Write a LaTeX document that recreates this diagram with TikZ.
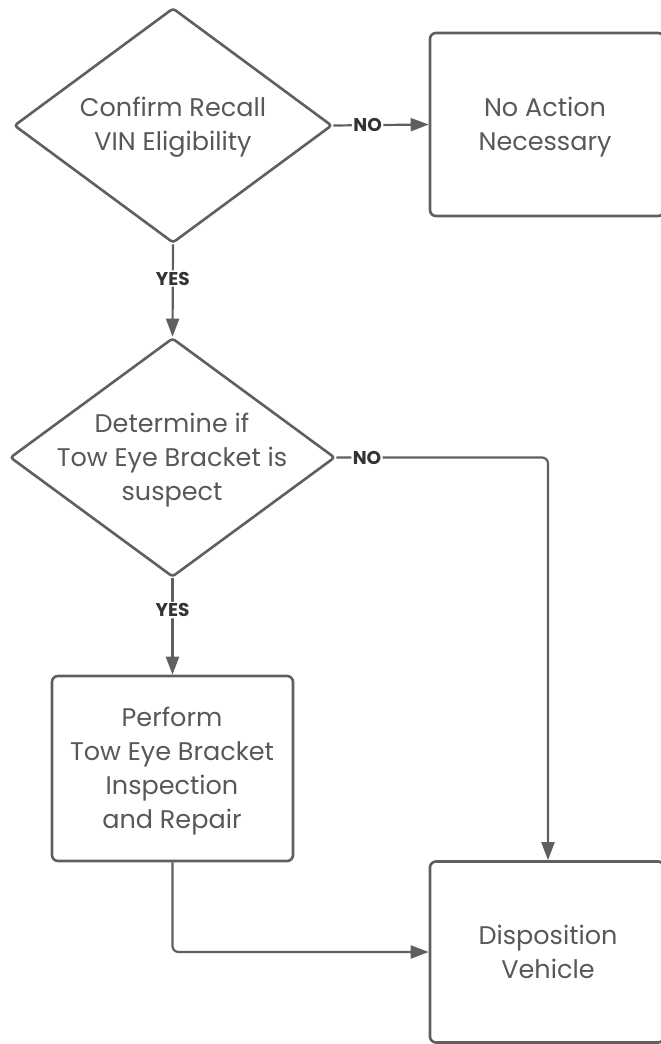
\documentclass[tikz,border=0pt]{standalone}
\usepackage{fontspec}
\setmainfont{Poppins}
\usetikzlibrary{shapes.geometric,arrows.meta}
\definecolor{linec}{HTML}{5F5F5F}
\definecolor{textc}{HTML}{585858}
\definecolor{lblc}{HTML}{333333}
\begin{document}
\begin{tikzpicture}[x=1pt,y=-1pt,
  every node/.style={text=textc},
  txt/.style={font=\fontsize{25.5}{34}\selectfont, align=center, inner sep=0pt},
  decision/.style={diamond, draw=linec, line width=2.6pt, rounded corners=3pt, inner sep=0pt},
  procbox/.style={rectangle, draw=linec, line width=2.6pt, rounded corners=6pt, inner sep=0pt},
  conn/.style={draw=linec, line width=2.2pt, rounded corners=6pt},
  arr/.style={conn, -{Triangle[length=18pt,width=13pt]}},
  lbl/.style={font=\fontsize{18.5}{20}\selectfont\bfseries, fill=white, inner sep=1.5pt, text=lblc}
]
\useasboundingbox (0,0) rectangle (661,1044);
\clip (0,0) rectangle (661,1044);
% decisions
\node[decision, minimum width=318pt, minimum height=235pt] (d1) at (173,125.5) {};
\node[txt] (t1) at (173,127) {Confirm Recall\\VIN Eligibility};
\node[decision, minimum width=325pt, minimum height=239pt] (d2) at (172.5,457.5) {};
\node[txt] (t2) at (172,460) {Determine if\\Tow Eye Bracket is\\suspect};
% boxes
\node[procbox, minimum width=234pt, minimum height=183pt] (b1) at (547,124.5) {};
\node[txt] (tb1) at (545,127) {No Action\\Necessary};
\node[procbox, minimum width=241pt, minimum height=185pt] (b3) at (172.5,768.5) {};
\node[txt] (tb3) at (172,771) {Perform\\Tow Eye Bracket\\Inspection\\and Repair};
\node[procbox, minimum width=234pt, minimum height=181pt] (b4) at (547,952) {};
\node[txt] (tb4) at (548,952) {Disposition\\Vehicle};
% connectors
\draw[arr] (d1.east) -- node[lbl, pos=0.36] (n1) {NO} (b1.west);
\draw[arr] (d1.south) -- node[lbl, pos=0.37] (y1) {YES} (d2.north);
\draw[arr] (d2.south) -- node[lbl, pos=0.33] (y2) {YES} (b3.north);
\coordinate (c1) at (548,457.5);
\draw[arr] (d2.east) -- node[lbl, pos=0.145] (n2) {NO} (c1) -- (c1 |- b4.north);
\draw[arr] (b3.south) |- (b4.west);
\end{tikzpicture}
\end{document}
